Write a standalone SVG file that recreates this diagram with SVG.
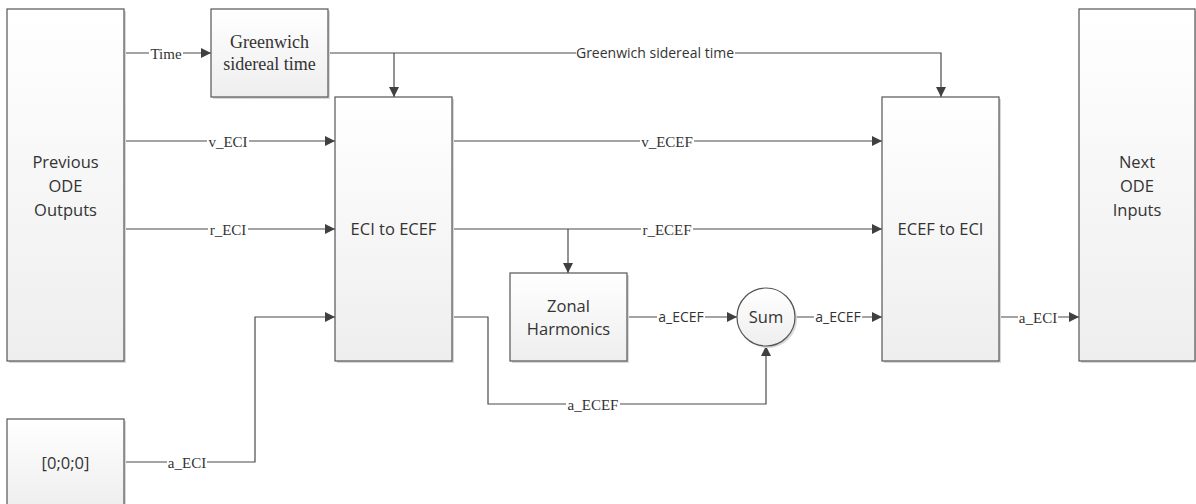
<svg xmlns="http://www.w3.org/2000/svg" width="1196" height="504" viewBox="0 0 1196 504">
<defs>
<linearGradient id="g" x1="0" y1="0" x2="0" y2="1">
<stop offset="0" stop-color="#ffffff"/>
<stop offset="1" stop-color="#eeeeee"/>
</linearGradient>
<marker id="ar" viewBox="0 0 10 10" refX="10" refY="5" markerWidth="10" markerHeight="10" markerUnits="userSpaceOnUse" orient="auto">
<path d="M0,0 L10,5 L0,10 Z" fill="#404040"/>
</marker>
</defs>
<style>
.box{fill:url(#g);stroke:#555555;stroke-width:1.2}
.sh{fill:#d8d8d8}
.nt{font-family:"Open Sans","Liberation Sans",sans-serif;font-size:16.5px;fill:#333333;text-anchor:middle}
.ns{font-family:"Liberation Serif",serif;font-size:18px;fill:#333333;text-anchor:middle}
.ln{fill:none;stroke:#4a4a4a;stroke-width:1.2}
.bg{fill:#ffffff}
.el{font-family:"Liberation Serif",serif;font-size:15px;fill:#333333;text-anchor:middle}
.es{font-family:"Open Sans","Liberation Sans",sans-serif;font-size:14px;fill:#333333;text-anchor:middle}
</style>
<g id="connectors">
<path class="ln" d="M124,53 H211" marker-end="url(#ar)"/>
<path class="ln" d="M328,53 H941 V97" marker-end="url(#ar)"/>
<path class="ln" d="M394,53 V97" marker-end="url(#ar)"/>
<path class="ln" d="M124,141 H335" marker-end="url(#ar)"/>
<path class="ln" d="M124,229 H335" marker-end="url(#ar)"/>
<path class="ln" d="M452,141 H882" marker-end="url(#ar)"/>
<path class="ln" d="M452,229 H882" marker-end="url(#ar)"/>
<path class="ln" d="M568,229 V273" marker-end="url(#ar)"/>
<path class="ln" d="M124,462 H255 V317 H335" marker-end="url(#ar)"/>
<path class="ln" d="M452,317 H488 V404 H766 V346" marker-end="url(#ar)"/>
<path class="ln" d="M627,317 H737" marker-end="url(#ar)"/>
<path class="ln" d="M795,317 H882" marker-end="url(#ar)"/>
<path class="ln" d="M999,317 H1079" marker-end="url(#ar)"/>
<rect class="bg" x="149" y="46" width="34" height="14"/>
<rect class="bg" x="576" y="46" width="159" height="14"/>
<rect class="bg" x="207" y="134" width="42" height="14"/>
<rect class="bg" x="208" y="222" width="40" height="14"/>
<rect class="bg" x="640" y="134" width="54" height="14"/>
<rect class="bg" x="641" y="222" width="52" height="14"/>
<rect class="bg" x="167" y="455" width="40" height="14"/>
<rect class="bg" x="566" y="397" width="54" height="14"/>
<rect class="bg" x="657" y="310" width="48" height="14"/>
<rect class="bg" x="814" y="310" width="48" height="14"/>
<rect class="bg" x="1018" y="310" width="40" height="14"/>
<text class="el" x="166" y="58.5">Time</text>
<text class="es" x="655" y="58">Greenwich sidereal time</text>
<text class="el" x="228" y="146.5">v_ECI</text>
<text class="el" x="228" y="234.5">r_ECI</text>
<text class="el" x="667" y="146.5">v_ECEF</text>
<text class="el" x="667" y="234.5">r_ECEF</text>
<text class="el" x="187" y="467.5">a_ECI</text>
<text class="el" x="593" y="409.5">a_ECEF</text>
<text class="es" x="681" y="322">a_ECEF</text>
<text class="es" x="838" y="322">a_ECEF</text>
<text class="el" x="1038" y="322.5">a_ECI</text>
</g>
<g id="prev">
<rect class="sh" x="9" y="11" width="117" height="352"/>
<rect class="box" x="7" y="9" width="117" height="352"/>
<text class="nt" x="65.5" y="168">Previous</text>
<text class="nt" x="65.5" y="192">ODE</text>
<text class="nt" x="65.5" y="216">Outputs</text>
</g>
<g id="gst">
<rect class="sh" x="213" y="11" width="117" height="88"/>
<rect class="box" x="211" y="9" width="117" height="88"/>
<text class="ns" x="269.5" y="48">Greenwich</text>
<text class="ns" x="269.5" y="70">sidereal time</text>
</g>
<g id="eci2ecef">
<rect class="sh" x="337" y="99" width="117" height="264"/>
<rect class="box" x="335" y="97" width="117" height="264"/>
<text class="nt" x="393.5" y="235">ECI to ECEF</text>
</g>
<g id="zonal">
<rect class="sh" x="512" y="275" width="117" height="88"/>
<rect class="box" x="510" y="273" width="117" height="88"/>
<text class="nt" x="568.5" y="312">Zonal</text>
<text class="nt" x="568.5" y="335">Harmonics</text>
</g>
<g id="sum">
<circle class="sh" cx="768" cy="319" r="29"/>
<circle class="box" cx="766" cy="317" r="29"/>
<text class="nt" x="766" y="323">Sum</text>
</g>
<g id="ecef2eci">
<rect class="sh" x="884" y="99" width="117" height="264"/>
<rect class="box" x="882" y="97" width="117" height="264"/>
<text class="nt" x="940.5" y="235">ECEF to ECI</text>
</g>
<g id="next">
<rect class="sh" x="1081" y="11" width="116" height="352"/>
<rect class="box" x="1079" y="9" width="116" height="352"/>
<text class="nt" x="1137" y="168">Next</text>
<text class="nt" x="1137" y="192">ODE</text>
<text class="nt" x="1137" y="216">Inputs</text>
</g>
<g id="zero">
<rect class="sh" x="9" y="421" width="117" height="88"/>
<rect class="box" x="7" y="419" width="117" height="88"/>
<text class="nt" x="65.5" y="469">[0;0;0]</text>
</g>
</svg>
